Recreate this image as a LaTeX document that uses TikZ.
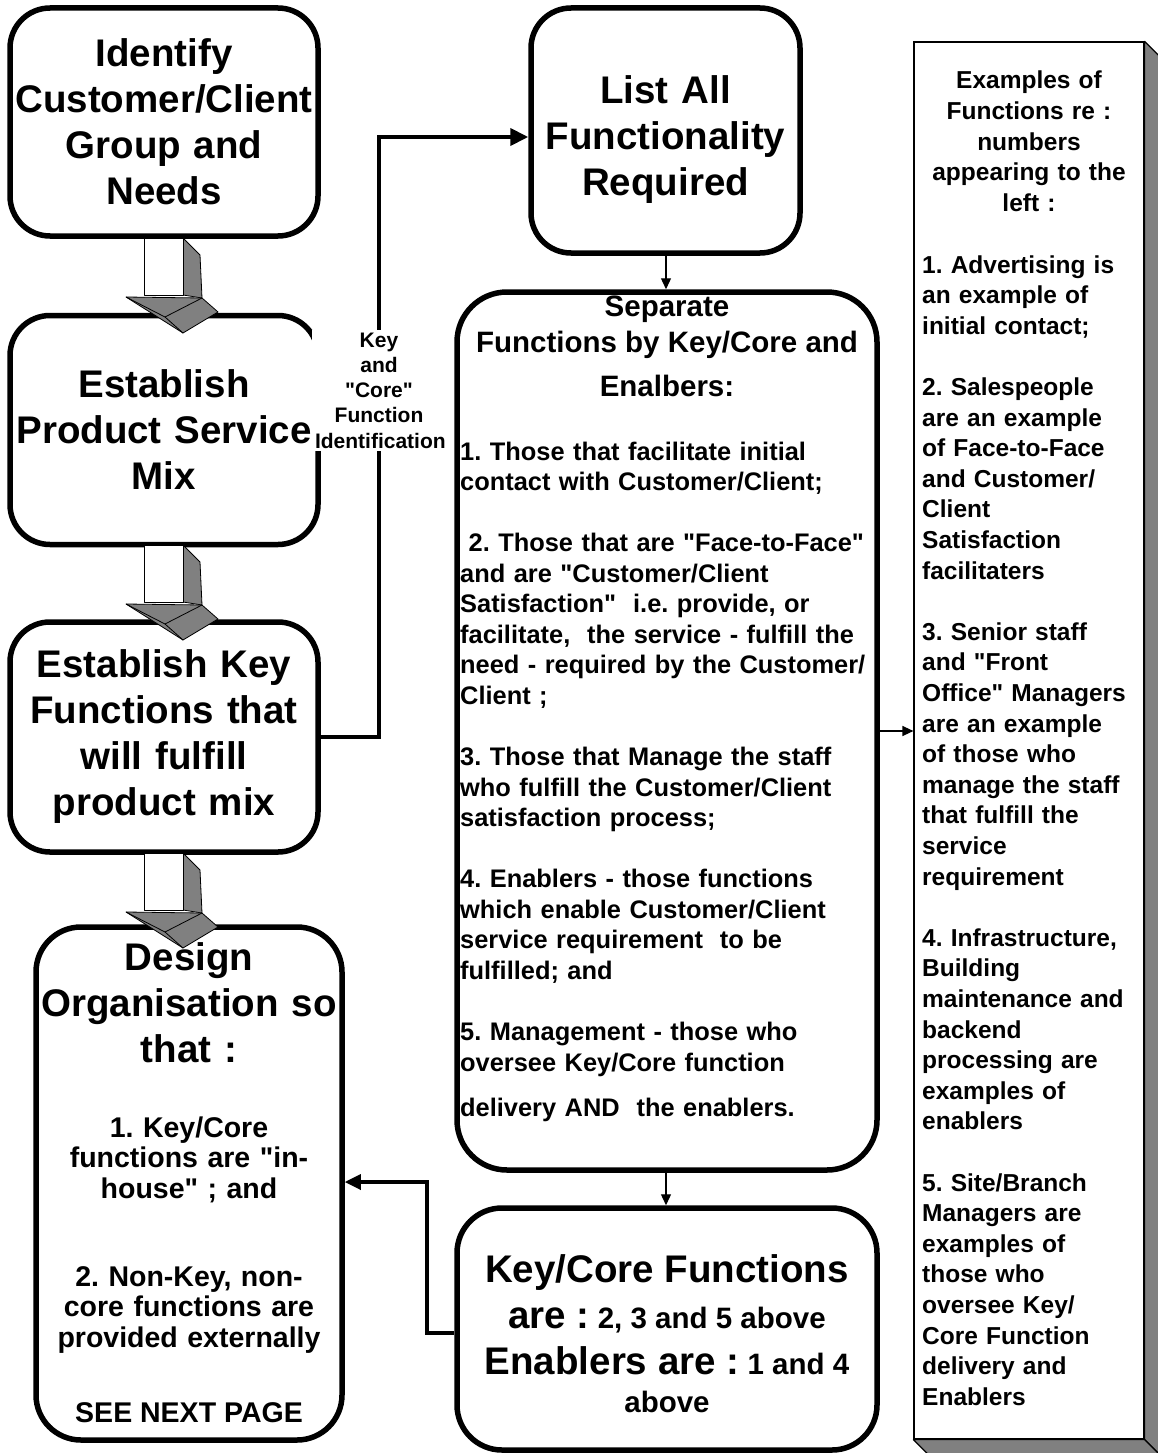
\documentclass[tikz,border=0pt]{standalone}
\usepackage{fontspec}
\newfontfamily\arialf{Liberation Sans}
\usetikzlibrary{arrows.meta,calc}
\definecolor{facegray}{HTML}{808080}
\frenchspacing

% type sizes
\newcommand\fbig{\arialf\fontsize{38.5}{46}\selectfont\bfseries}
\newcommand\fmid{\arialf\fontsize{29.5}{34}\selectfont\bfseries}
\newcommand\fitem{\arialf\fontsize{25.4}{30.55}\selectfont\bfseries}
\newcommand\fside{\arialf\fontsize{24.5}{30.6}\selectfont\bfseries}
\newcommand\fsmall{\arialf\fontsize{28.5}{30.5}\selectfont\bfseries}
\newcommand\fkey{\arialf\fontsize{21}{25.3}\selectfont\bfseries}

% block arrow pointing down; arguments give the top-left corner of its shaft
\newcommand\flowarrow[2]{%
  \begin{scope}[shift={(#1,#2)}, line width=0.8pt, line join=round]
    \filldraw[fill=facegray] (39,0) -- (56,17) -- (58,60) -- (39,57) -- cycle;
    \filldraw[fill=white] (0,0) rectangle (39,57);
    \filldraw[fill=facegray] (-18,59) -- (58,60) -- (74,74) -- (39,95) -- cycle;
    \draw (-18,59) -- (21,79) -- (39,95);
    \draw (21,79) -- (58,60);
  \end{scope}}

\begin{document}
\begin{tikzpicture}[x=1pt, y=-1pt,
  box/.style={draw, line width=5.5pt, rounded corners=40pt, inner sep=0pt, align=center},
  panel/.style={draw, line width=1.2pt, fill=white, inner sep=0pt},
  txt/.style={inner sep=0pt, anchor=base},
  thickconn/.style={line width=4pt, -{Triangle[length=18pt,width=17pt]}},
  midconn/.style={line width=3.3pt, -{Triangle[length=16pt,width=15pt]}},
  thinconn/.style={line width=1.3pt, -{Triangle[length=11pt,width=10pt]}}]

\useasboundingbox[fill=white] (0,0) rectangle (1157,1453);

% left column
\node[box, minimum width=308pt, minimum height=228pt, text width=300pt, font=\fbig] (b1) at (164,122)
  {Identify\\Customer/Client\\Group and\\Needs};
\node[box, minimum width=308pt, minimum height=229pt, text width=300pt, font=\fbig] (b2) at (164,430)
  {Establish\\Product Service\\Mix};
\node[box, minimum width=308pt, minimum height=230pt, text width=300pt, font=\fbig] (b3) at (164,737)
  {Establish Key\\Functions that\\will fulfill\\product mix};
\node[box, minimum width=306pt, minimum height=513pt, rounded corners=45pt] (b4) at (189,1183.5) {};
\node[txt, text width=300pt, align=center, font=\fbig] (b4t) at (189,970)
  {Design\\Organisation so\\that :};
\node[txt, text width=300pt, align=center, font=\fsmall] (b4a) at (189,1137)
  {1. Key/Core\\functions are "in-\\house" ; and};
\node[txt, text width=300pt, align=center, font=\fsmall] (b4b) at (189,1286)
  {2. Non-Key, non-\\core functions are\\provided externally};
\node[txt, font=\fsmall] (b4c) at (189,1422) {SEE NEXT PAGE};

% middle column
\node[box, minimum width=269pt, minimum height=245pt] (b5) at (665.5,130.5) {};
\node[txt, text width=262pt, align=center, font=\fbig] (b5t) at (665.5,104)
  {List All\\Functionality\\Required};
\node[box, minimum width=420pt, minimum height=878pt, rounded corners=50pt] (b6) at (667,731) {};
\node[txt, font=\fmid] (b6h1) at (667,316) {Separate};
\node[txt, font=\fmid] (b6h2) at (667,352) {Functions by Key/Core and};
\node[txt, font=\fmid] (b6h3) at (667,396) {Enalbers:};
\node[txt, anchor=base west, text width=412pt, align=left, font=\fitem] (b6i) at (460,460)
  {1. Those that facilitate initial\\
   contact with Customer/Client;\\[30.55pt]
   \ 2. Those that are "Face-to-Face"\\
   and are "Customer/Client\\
   Satisfaction"~ i.e. provide, or\\
   facilitate,~ the service - fulfill the\\
   need - required by the Customer/\\
   Client ;\\[30.55pt]
   3. Those that Manage the staff\\
   who fulfill the Customer/Client\\
   satisfaction process;\\[30.55pt]
   4. Enablers - those functions\\
   which enable Customer/Client\\
   service requirement~ to be\\
   fulfilled; and\\[30.55pt]
   5. Management - those who\\
   oversee Key/Core function\\[15pt]
   delivery AND~ the enablers.};
\node[box, minimum width=420pt, minimum height=242pt, rounded corners=45pt] (b7) at (667,1329) {};
\node[txt] (b7l1) at (667,1282) {\fbig Key/Core Functions};
\node[txt] (b7l2) at (667,1328) {\fbig are :\fmid\ 2, 3 and 5 above};
\node[txt] (b7l3) at (667,1374) {\fbig Enablers are :\fmid\ 1 and 4};
\node[txt] (b7l4) at (667,1412) {\fmid above};

% right-hand panel with its extruded edges
\node[panel, minimum width=230pt, minimum height=1397pt] (pn) at (1029,740.5) {};
\filldraw[fill=facegray, line width=1.2pt, line join=round]
  (pn.north east) -- ++(15,15) -- ($(pn.south east)+(15,15)$) -- (pn.south east) -- cycle;
\filldraw[fill=facegray, line width=1.2pt, line join=round]
  (pn.south west) -- ++(15,15) -- ($(pn.south east)+(15,15)$) -- (pn.south east) -- cycle;
\node[txt, text width=226pt, align=center, font=\fside] (pnh) at (1029,89)
  {Examples of\\Functions re :\\numbers\\appearing to the\\left :};
\node[txt, anchor=base west, text width=226pt, align=left, font=\fside] (pnb) at (922,273)
  {1. Advertising is\\an example of\\initial contact;\\[30.6pt]
   2. Salespeople\\are an example\\of Face-to-Face\\and Customer/\\Client\\Satisfaction\\facilitaters\\[30.6pt]
   3. Senior staff\\and "Front\\Office" Managers\\are an example\\of those who\\manage the staff\\that fulfill the\\service\\requirement\\[30.6pt]
   4. Infrastructure,\\Building\\maintenance and\\backend\\processing are\\examples of\\enablers\\[30.6pt]
   5. Site/Branch\\Managers are\\examples of\\those who\\oversee Key/\\Core Function\\delivery and\\Enablers};

% block arrows between the left-hand boxes
\flowarrow{144}{238}
\flowarrow{144}{545}
\flowarrow{144}{853}

% connectors
\coordinate (kc) at (379,737);
\coordinate (kt) at (379,137);
\draw[thickconn] (b3.east) -- (kc) -- (kt) -- (kt -| b5.west);
\node[txt, fill=white, inner sep=3pt, text width=128pt, align=center, font=\fkey] (kl) at (379,347)
  {Key\\and\\"Core"\\Function\\Identification};

\coordinate (m1) at (427,1333);
\coordinate (m2) at (427,1182);
\draw[midconn] (m1 -| b7.west) -- (m1) -- (m2) -- (m2 -| b4.east);

\coordinate (ax) at (666,0);
\draw[thinconn] (b5.south -| ax) -- (b6.north -| ax);
\draw[thinconn] (b6.south -| ax) -- (b7.north -| ax);
\draw[thinconn] (b6.east) -- (b6.east -| pn.west);
\end{tikzpicture}
\end{document}
